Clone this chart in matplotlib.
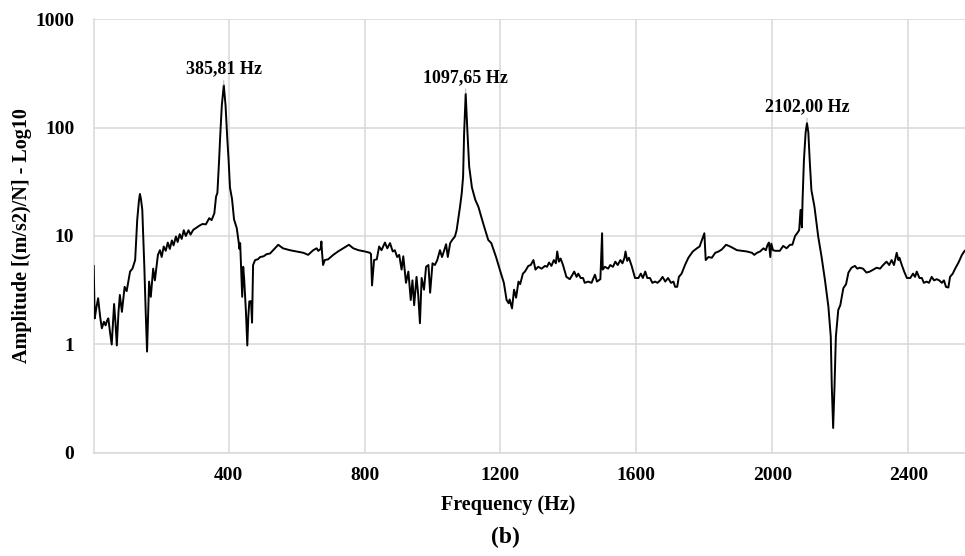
import numpy as np
import matplotlib.pyplot as plt
from matplotlib.ticker import FixedLocator, NullLocator

plt.rcParams['font.family'] = ['Liberation Serif', 'DejaVu Serif']
plt.rcParams['font.weight'] = 'bold'

# FRF amplitude (Hz, (m/s2)/N)
freq = [3, 6, 11, 16, 22, 27, 33, 38, 42, 46, 51, 56, 63, 67, 71, 76, 80, 86, 94, 100,
        110, 117, 125, 131, 136, 139, 142, 146, 152, 156, 160, 163, 166, 171, 178, 183,
        192, 198, 203, 209, 215, 221, 227, 233, 238, 245, 250, 256, 262, 268, 274, 282,
        288, 296, 305, 313, 323, 333, 343, 350, 358, 363, 367, 372, 375, 380, 385.81,
        391, 396, 400, 404, 410, 416, 424, 430, 432, 434, 440, 443, 446, 451, 455, 458,
        461, 466, 469, 472, 478, 486, 493, 503, 512, 522, 531, 546, 560, 580, 600, 620,
        634, 649, 659, 664, 671, 673, 675, 678, 683, 693, 708, 722, 737, 754, 767, 782,
        801, 816, 819, 822, 826, 828, 836, 843, 850, 860, 867, 875, 883, 889, 896, 902,
        909, 914, 922, 929, 936, 941, 946, 953, 958, 963, 968, 975, 981, 988, 993, 1000,
        1007, 1014, 1022, 1028, 1034, 1040, 1045, 1052, 1058, 1066, 1071, 1081, 1086,
        1090, 1093, 1097.65, 1103, 1108, 1116, 1126, 1135, 1149, 1164, 1173, 1187, 1198,
        1210, 1218, 1224, 1227, 1234, 1240, 1246, 1253, 1258, 1266, 1272, 1282, 1289,
        1297, 1303, 1311, 1321, 1331, 1337, 1343, 1350, 1357, 1363, 1367, 1372, 1377,
        1384, 1394, 1404, 1412, 1417, 1424, 1429, 1436, 1443, 1448, 1458, 1468, 1478,
        1484, 1494, 1499, 1501, 1507, 1517, 1523, 1531, 1538, 1545, 1553, 1559, 1565,
        1568, 1573, 1578, 1586, 1596, 1606, 1613, 1619, 1626, 1632, 1640, 1647, 1655,
        1662, 1670, 1677, 1685, 1693, 1702, 1709, 1714, 1720, 1725, 1733, 1743, 1753,
        1766, 1778, 1786, 1793, 1800, 1804, 1812, 1822, 1832, 1842, 1851, 1864, 1876,
        1886, 1896, 1911, 1925, 1940, 1947, 1955, 1964, 1974, 1981, 1986, 1990, 1994,
        1997, 2002, 2009, 2022, 2032, 2042, 2052, 2059, 2067, 2073, 2079, 2083, 2087,
        2089, 2093, 2098, 2102, 2106, 2110, 2115, 2124, 2135, 2145, 2155, 2165, 2172,
        2175, 2179, 2183, 2187, 2194, 2200, 2209, 2217, 2224, 2233, 2243, 2250, 2257,
        2267, 2277, 2287, 2297, 2307, 2317, 2326, 2336, 2344, 2351, 2358, 2366, 2371,
        2374, 2381, 2388, 2396, 2406, 2414, 2420, 2425, 2433, 2440, 2446, 2454, 2461,
        2469, 2476, 2484, 2491, 2499, 2505, 2511, 2518, 2523, 2531, 2538, 2548, 2558, 2566]
amp = [5.3, 1.74, 2.2, 2.67, 1.8, 1.41, 1.62, 1.5, 1.65, 1.74, 1.3, 1.0, 2.36, 1.6, 0.98,
       2.0, 2.86, 2.0, 3.4, 3.1, 4.7, 5.0, 6.0, 14, 21, 24.4, 22, 17.4, 5.2, 2.0, 0.86,
       1.8, 3.8, 2.75, 5.0, 3.9, 6.7, 7.4, 6.4, 8.0, 7.3, 8.7, 7.6, 9.1, 8.2, 9.9, 8.8,
       10.4, 9.4, 11.3, 10.0, 11.3, 10.3, 11.4, 11.9, 12.4, 12.9, 12.8, 14.6, 14.0, 16.2,
       23, 25, 50, 80, 160, 245, 160, 80, 50, 28, 22, 14.2, 11.8, 8.6, 7.6, 8.6, 2.75,
       5.2, 3.9, 2.0, 0.98, 1.8, 2.5, 2.5, 1.59, 5.4, 6.0, 6.1, 6.4, 6.5, 6.8, 6.9, 7.4,
       8.3, 7.7, 7.4, 7.2, 7.0, 6.7, 7.4, 7.7, 7.3, 7.6, 8.9, 7.0, 5.4, 6.0, 6.1, 6.7,
       7.2, 7.7, 8.3, 7.7, 7.4, 7.2, 7.0, 6.8, 3.5, 5.0, 6.0, 6.1, 8.0, 7.4, 8.7, 7.7,
       8.6, 7.2, 7.4, 6.4, 6.7, 4.9, 6.5, 3.7, 4.7, 2.57, 3.9, 2.3, 4.2, 2.86, 1.57, 4.1,
       3.2, 5.2, 5.4, 3.0, 5.6, 5.4, 6.0, 7.4, 6.4, 7.3, 8.4, 6.4, 8.6, 9.2, 9.9, 11.3,
       18.6, 24.8, 35, 88, 205, 88, 43.5, 28, 21.5, 18.6, 13.1, 9.2, 8.6, 6.4, 4.9, 3.7,
       2.57, 2.4, 2.6, 2.15, 3.2, 2.7, 3.8, 3.6, 4.5, 4.7, 5.3, 5.4, 6.0, 4.9, 5.2, 5.0,
       5.3, 5.2, 5.7, 5.3, 6.0, 5.6, 7.2, 5.8, 6.2, 5.4, 4.2, 4.0, 4.4, 4.7, 4.2, 4.5,
       4.1, 4.1, 3.7, 3.8, 3.7, 4.4, 3.8, 4.0, 10.6, 4.9, 5.2, 5.0, 5.4, 5.2, 5.8, 5.4,
       6.0, 5.6, 6.3, 7.2, 5.9, 6.3, 5.3, 4.1, 4.1, 4.5, 4.1, 4.7, 4.1, 4.1, 3.7, 3.8,
       3.7, 3.9, 4.2, 3.8, 4.1, 3.7, 3.8, 3.4, 3.4, 4.2, 4.5, 5.4, 6.3, 7.2, 7.7, 8.0,
       9.2, 10.6, 6.0, 6.4, 6.3, 7.0, 7.2, 7.5, 8.3, 8.0, 7.7, 7.4, 7.3, 7.2, 7.0, 6.7,
       7.0, 7.2, 7.7, 7.4, 8.3, 8.7, 6.4, 8.5, 7.4, 7.3, 7.3, 8.1, 7.7, 8.3, 8.3, 10.0,
       10.6, 11.3, 17.4, 12.0, 21.5, 50, 90, 110, 90, 50, 26.5, 18.6, 9.9, 6.4, 3.9,
       2.23, 1.18, 0.41, 0.17, 0.41, 1.18, 2.08, 2.3, 3.3, 3.6, 4.6, 5.1, 5.3, 5.0, 5.1,
       5.0, 4.6, 4.7, 4.9, 5.1, 5.0, 5.4, 5.8, 5.4, 6.0, 5.4, 7.0, 6.0, 6.3, 5.4, 4.7,
       4.1, 4.1, 4.5, 4.2, 4.7, 4.1, 4.1, 3.7, 3.8, 3.7, 4.2, 3.9, 4.0, 3.9, 3.7, 3.9,
       3.4, 3.35, 4.2, 4.5, 5.0, 5.7, 6.7, 7.3]

peak_freq = [385.81, 1097.65, 2102.00]
peak_amp = [245, 205, 110]

x_ticks = [400, 800, 1200, 1600, 2000, 2400]
y_ticks = [0.1, 1, 10, 100, 1000]
y_tick_labels = ['0', '1', '10', '100', '1000']

fig = plt.figure(figsize=(9.65, 5.56), dpi=100)
ax = fig.add_axes([0.0971, 0.1853, 0.9029, 0.7805])

ax.plot(freq, amp, color='black', lw=1.4, zorder=3)

ax.set_yscale('log')
ax.set_xlim(3, 2567)
ax.set_ylim(0.1, 1000)

ax.xaxis.set_major_locator(FixedLocator(x_ticks))
ax.yaxis.set_major_locator(FixedLocator(y_ticks))
ax.yaxis.set_minor_locator(NullLocator())
ax.set_yticklabels(y_tick_labels)

ax.grid(True, color='#d9d9d9', lw=1.1)
ax.set_axisbelow(True)
for side in ['top', 'right']:
    ax.spines[side].set_visible(False)
for side in ['left', 'bottom']:
    ax.spines[side].set_color('#d9d9d9')
    ax.spines[side].set_linewidth(1.1)

ax.tick_params(axis='both', length=0, labelsize=14)
ax.tick_params(axis='x', pad=10)
ax.tick_params(axis='y', pad=14)

# peak labels with short leader lines
for f, a in zip(peak_freq, peak_amp):
    ax.annotate(f'{f:.2f}'.replace('.', ',') + ' Hz', xy=(f, a), xytext=(0, 5.5),
                textcoords='offset points', ha='center', va='bottom', fontsize=13,
                fontweight='bold',
                arrowprops=dict(arrowstyle='-', color='#a6a6a6', lw=0.6,
                                shrinkA=0, shrinkB=0))

ax.set_xlabel('Frequency (Hz)', fontsize=14.5, fontweight='bold')
ax.xaxis.set_label_coords(0.4755, -0.12)
ax.xaxis.label.set_va('center')
ax.set_ylabel('Amplitude [(m/s2)/N] - Log10', fontsize=14.5, fontweight='bold')
ax.yaxis.set_label_coords(-0.0823, 0.5)
ax.yaxis.label.set_va('center')

fig.text(505 / 965, 1 - 537 / 556, '(b)', ha='center', va='center',
         fontsize=17, fontweight='bold')

fig.savefig('out.png', dpi=100)
